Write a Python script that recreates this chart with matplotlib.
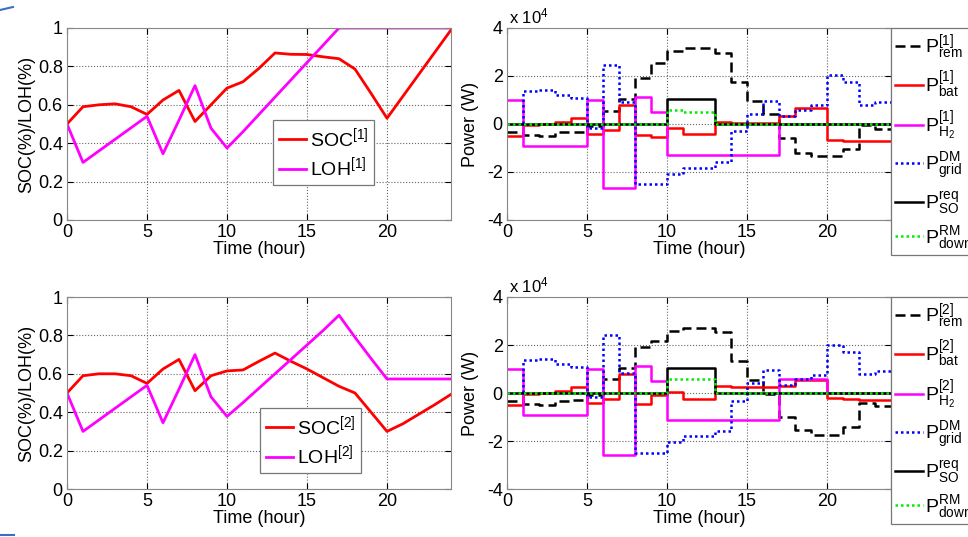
import matplotlib
matplotlib.use("Agg")
import matplotlib.pyplot as plt
from matplotlib.lines import Line2D
import numpy as np

plt.rcParams['font.family'] = ['Liberation Sans', 'DejaVu Sans']
plt.rcParams['mathtext.fontset'] = 'custom'
plt.rcParams['mathtext.rm'] = 'Liberation Sans'
plt.rcParams['mathtext.it'] = 'Liberation Sans:italic'
plt.rcParams['mathtext.bf'] = 'Liberation Sans:bold'

hours = np.arange(25)

soc1 = [0.50, 0.59, 0.60, 0.605, 0.59, 0.55, 0.625, 0.675, 0.513, 0.60, 0.687, 0.72, 0.79, 0.87,
        0.863, 0.862, 0.85, 0.84, 0.786, 0.66, 0.53, 0.645, 0.76, 0.875, 0.99]
loh1 = [0.50, 0.30, 0.36, 0.42, 0.48, 0.54, 0.345, 0.52, 0.70, 0.478, 0.375, 0.46, 0.55, 0.64,
        0.73, 0.82, 0.91, 1.0, 1.0, 1.0, 1.0, 1.0, 1.0, 1.0, 1.0]
soc2 = [0.50, 0.59, 0.60, 0.60, 0.59, 0.55, 0.625, 0.675, 0.512, 0.59, 0.615, 0.62, 0.665, 0.708,
        0.665, 0.625, 0.58, 0.535, 0.50, 0.40, 0.30, 0.34, 0.39, 0.44, 0.493]
loh2 = [0.50, 0.30, 0.36, 0.42, 0.48, 0.54, 0.345, 0.52, 0.70, 0.48, 0.378, 0.45, 0.525, 0.60,
        0.675, 0.75, 0.825, 0.905, 0.79, 0.68, 0.573, 0.573, 0.573, 0.573, 0.573]

# Power series, hourly intervals, in units of 1e4 W
p_rem1 = [-0.35, -0.45, -0.52, -0.35, -0.35, -0.1, 0.55, 1.05, 1.9, 2.55, 3.05, 3.15, 3.15, 2.95,
          1.75, 0.95, 0.4, -0.6, -1.2, -1.35, -1.35, -1.05, -0.05, -0.2]
p_bat1 = [-0.52, -0.05, 0.0, 0.1, 0.25, -0.4, -0.25, 0.8, -0.45, -0.55, -0.15, -0.4, -0.4, 0.1,
          0.05, 0.05, 0.05, 0.35, 0.65, 0.65, -0.65, -0.7, -0.7, -0.7]
p_h2_1 = [1.0, -0.9, -0.9, -0.9, -0.9, 1.0, -2.65, -2.65, 1.12, 0.5, -1.3, -1.3, -1.3, -1.3,
          -1.3, -1.3, -1.3, 0, 0, 0, 0, 0, 0, 0]
p_grid1 = [0.0, 1.38, 1.42, 1.2, 1.07, -0.15, 2.45, 0.9, -2.52, -2.52, -2.1, -1.85, -1.85, -1.6,
           -0.3, 0.4, 0.95, 0.35, 0.6, 0.8, 2.05, 1.75, 0.8, 0.9]
p_so1 = [0, 0, 0, 0, 0, 0, 0, 0, 0, 0, 1.05, 1.05, 1.05, 0, 0, 0, 0, 0, 0, 0, 0, 0, 0, 0]
p_down1 = [0, 0, 0, 0, 0, 0, 0, 0, 0, 0, 0.6, 0.5, 0.5, 0, 0, 0, 0, 0, 0, 0, 0, 0, 0, 0]

p_rem2 = [-0.35, -0.45, -0.5, -0.35, -0.3, -0.1, 0.58, 1.05, 1.9, 2.15, 2.6, 2.7, 2.7, 2.55,
          1.35, 0.55, -0.05, -1.0, -1.55, -1.75, -1.75, -1.4, -0.4, -0.55]
p_bat2 = [-0.5, -0.05, 0.0, 0.1, 0.25, -0.4, -0.25, 0.8, -0.45, -0.1, 0.05, -0.25, -0.25, 0.3,
          0.25, 0.25, 0.25, 0.3, 0.55, 0.55, -0.2, -0.25, -0.3, -0.3]
p_h2_2 = [1.0, -0.9, -0.9, -0.9, -0.9, 1.0, -2.6, -2.6, 1.12, 0.5, -1.13, -1.13, -1.13, -1.13,
          -1.13, -1.13, -1.13, 0.58, 0.58, 0.58, 0, 0, 0, 0]
p_grid2 = [0.0, 1.38, 1.42, 1.2, 1.07, -0.15, 2.42, 0.85, -2.52, -2.52, -2.05, -1.8, -1.8, -1.6,
           -0.35, 0.4, 0.95, 0.35, 0.6, 0.75, 2.0, 1.7, 0.8, 0.9]
p_so2 = [0, 0, 0, 0, 0, 0, 0, 0, 0, 0, 1.05, 1.05, 1.05, 0, 0, 0, 0, 0, 0, 0, 0, 0, 0, 0]
p_down2 = [0, 0, 0, 0, 0, 0, 0, 0, 0, 0, 0.58, 0.58, 0.58, 0, 0, 0, 0, 0, 0, 0, 0, 0, 0, 0]

FS = 13
W, H = 968, 537
fig = plt.figure(figsize=(W / 100, H / 100), dpi=100)


def px_axes(x0, y0, x1, y1):
    return fig.add_axes([x0 / W, 1 - y1 / H, (x1 - x0) / W, (y1 - y0) / H])


def style(ax):
    ax.set_xlim(0, 24)
    ax.set_xticks([0, 5, 10, 15, 20])
    ax.tick_params(direction='in', top=True, right=True, labelsize=FS, length=4, pad=3)
    ax.grid(True, color='#666666', linestyle=':', linewidth=0.8)
    ax.set_axisbelow(True)
    for s in ax.spines.values():
        s.set_color('#888888')
        s.set_linewidth(0.8)
    ax.set_xlabel('Time (hour)', fontsize=FS, labelpad=0)


def soc_panel(ax, soc, loh, k, leg_px):
    ax.plot(hours, soc, color='#ff0000', lw=2, label=r'SOC$^{[%d]}$' % k)
    ax.plot(hours, loh, color='#ff00ff', lw=2, label=r'LOH$^{[%d]}$' % k)
    style(ax)
    ax.set_ylim(0, 1)
    ax.set_yticks([0, 0.2, 0.4, 0.6, 0.8, 1])
    ax.set_yticklabels(['0', '0.2', '0.4', '0.6', '0.8', '1'])
    ax.set_ylabel('SOC(%)/LOH(%)', fontsize=FS, labelpad=2)
    leg = ax.legend(loc='upper left', bbox_to_anchor=(leg_px[0] / W, 1 - leg_px[1] / H),
                    bbox_transform=fig.transFigure, fontsize=14, fancybox=False,
                    edgecolor='#777777', framealpha=1, handlelength=1.4, handletextpad=0.2,
                    borderpad=0.3, labelspacing=0.3, borderaxespad=0)
    leg.get_frame().set_linewidth(0.9)


def step(v):
    return list(v) + [v[-1]]


def power_panel(ax, rem, bat, h2, grid, so, down, k, leg_top):
    ax.plot(hours, step(rem), drawstyle='steps-post', color='black', lw=1.8, ls=(0, (4, 2)),
            label=r'P$^{[%d]}_{\mathrm{rem}}$' % k)
    ax.plot(hours, step(bat), drawstyle='steps-post', color='#ff0000', lw=1.8,
            label=r'P$^{[%d]}_{\mathrm{bat}}$' % k)
    ax.plot(hours, step(h2), drawstyle='steps-post', color='#ff00ff', lw=1.8,
            label=r'P$^{[%d]}_{\mathrm{H_2}}$' % k)
    ax.plot(hours, step(grid), drawstyle='steps-post', color='#0000ff', lw=1.8, ls=(0, (1, 1.2)),
            label=r'P$^{\mathrm{DM}}_{\mathrm{grid}}$')
    ax.plot(hours, step(so), drawstyle='steps-post', color='black', lw=1.8,
            label=r'P$^{\mathrm{req}}_{\mathrm{SO}}$')
    ax.plot(hours, step(down), drawstyle='steps-post', color='#00ee00', lw=1.8, ls=(0, (1, 1.2)),
            label=r'P$^{\mathrm{RM}}_{\mathrm{down}}$')
    style(ax)
    ax.set_ylim(-4, 4)
    ax.set_yticks([-4, -2, 0, 2, 4])
    ax.set_yticklabels(['-4', '-2', '0', '2', '4'])
    ax.set_ylabel('Power (W)', fontsize=FS, labelpad=6)
    ax.text(0.005, 1.01, r'x 10$^4$', transform=ax.transAxes, fontsize=FS - 1,
            ha='left', va='bottom')
    leg = ax.legend(loc='upper left', bbox_to_anchor=(891 / W, 1 - leg_top / H),
                    bbox_transform=fig.transFigure, fontsize=14, fancybox=False,
                    edgecolor='#777777', framealpha=1, handlelength=1.45, handletextpad=0.1,
                    borderpad=0.2, labelspacing=0.42, borderaxespad=0)
    leg.get_frame().set_linewidth(0.9)


ax1 = px_axes(67, 28, 451, 220)
soc_panel(ax1, soc1, loh1, 1, (273, 120))
ax2 = px_axes(507, 28, 891, 220)
power_panel(ax2, p_rem1, p_bat1, p_h2_1, p_grid1, p_so1, p_down1, 1, 28)
ax3 = px_axes(67, 297, 451, 489)
soc_panel(ax3, soc2, loh2, 2, (260, 408))
ax4 = px_axes(507, 297, 891, 489)
power_panel(ax4, p_rem2, p_bat2, p_h2_2, p_grid2, p_so2, p_down2, 2, 297)

# small slide-border decorations seen in the reference corners
fig.add_artist(Line2D([0 / W, 13 / W], [1 - 10 / H, 1 - 7 / H], color='#3a6fc4', lw=1.5,
                      transform=fig.transFigure))
fig.add_artist(Line2D([0 / W, 14 / W], [1 - 535 / H, 1 - 535 / H], color='#3a6fc4', lw=1.5,
                      transform=fig.transFigure))

fig.savefig('out.png', dpi=100)
